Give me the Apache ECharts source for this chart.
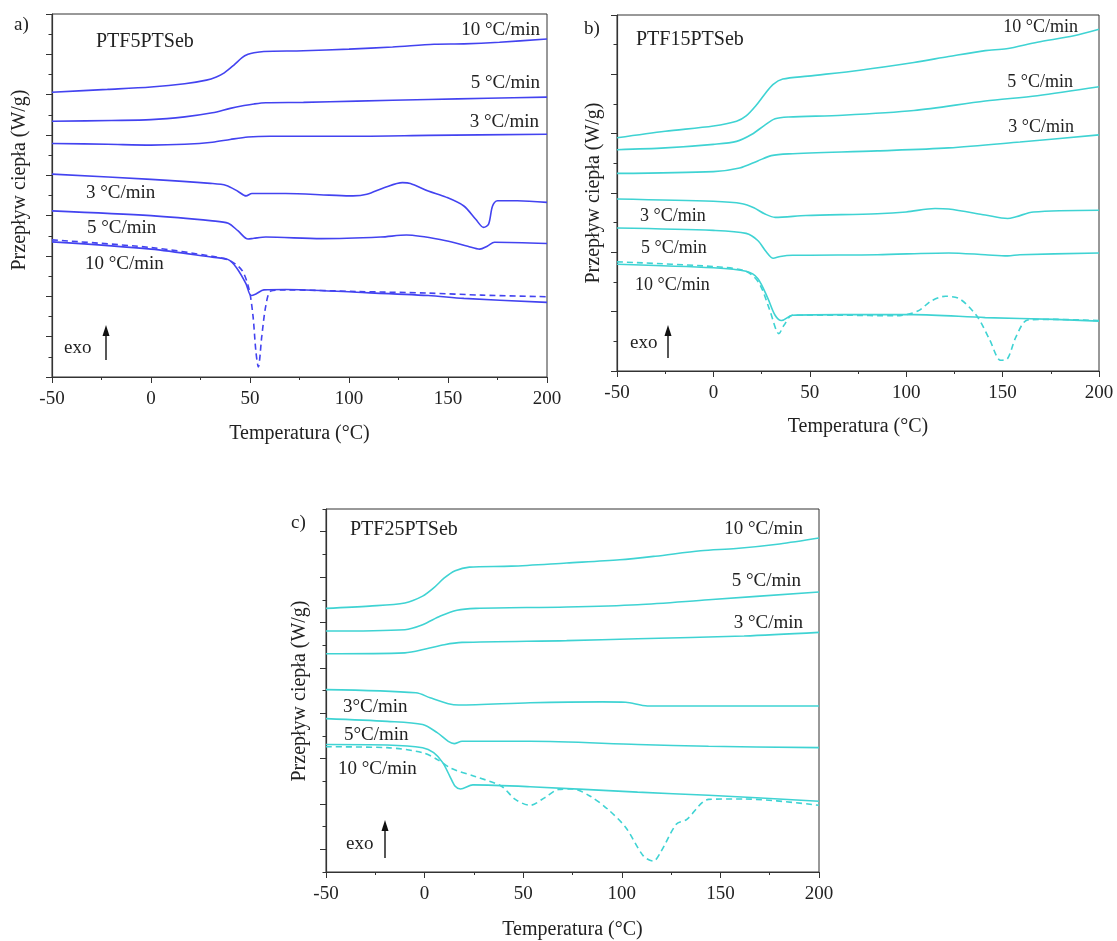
<!DOCTYPE html>
<html>
<head>
<meta charset="utf-8">
<script src="https://cdn.jsdelivr.net/npm/echarts@6/dist/echarts.min.js"></script>
<style>
  html, body { margin: 0; padding: 0; background: #fff; }
  #chart { width: 1117px; height: 941px; }
</style>
</head>
<body>
<div id="chart"></div>
<script>
// DSC traces: [temperature °C, heat flow (shifted, arbitrary units)]
// Panel a — PTF5PTSeb
const aHeat10 = [[-50,7.06],[-22,7.13],[0,7.19],[17,7.27],[28,7.36],[33,7.44],[37,7.54],[42,7.74],[46,7.92],[49,8.0],[52,8.04],[57,8.07],[77,8.09],[100,8.13],[122,8.18],[143,8.25],[158,8.26],[176,8.30],[200,8.38]];
const aHeat5 = [[-50,6.34],[-20,6.36],[0,6.38],[17,6.45],[31,6.55],[40,6.66],[47,6.73],[52,6.77],[58,6.80],[77,6.81],[104,6.84],[140,6.88],[170,6.91],[200,6.94]];
const aHeat3 = [[-50,5.79],[-22,5.77],[0,5.75],[17,5.77],[31,5.82],[40,5.89],[49,5.95],[60,5.97],[104,5.97],[140,5.99],[200,6.02]];
const aCool3 = [[-50,5.03],[0,4.90],[30,4.80],[38,4.75],[44,4.60],[48,4.49],[51,4.55],[68,4.55],[90,4.51],[102,4.49],[109,4.53],[118,4.70],[127,4.82],[131,4.80],[140,4.61],[149,4.46],[158,4.24],[164,3.91],[168,3.71],[170.5,3.79],[172.5,4.24],[175,4.37],[185,4.37],[200,4.33]];
const aCool5 = [[-50,4.12],[0,4.00],[31,3.87],[39,3.81],[44,3.62],[49,3.42],[52,3.44],[58,3.47],[86,3.43],[116,3.47],[129,3.52],[149,3.38],[160,3.24],[166,3.17],[170,3.25],[173.5,3.34],[200,3.31]];
const aCool10 = [[-50,3.35],[0,3.17],[31,2.97],[39,2.91],[43,2.72],[48,2.31],[50.5,2.02],[53,2.06],[57,2.16],[68,2.17],[104,2.10],[140,2.02],[158,1.95],[200,1.85]];
const aCool10b = [[-50,3.40],[0,3.21],[31,2.99],[40,2.88],[46,2.64],[49.5,2.18],[51.5,1.52],[53,0.62],[54.2,0.25],[56,1.03],[58,1.77],[60.5,2.13],[68,2.16],[104,2.12],[140,2.08],[167,2.03],[200,1.99]];

// Panel b — PTF15PTSeb
const bHeat10 = [[-50,3.93],[-25,4.04],[0,4.13],[12,4.21],[17,4.30],[22,4.47],[26.5,4.66],[31,4.83],[36,4.92],[49,4.97],[76,5.07],[104,5.20],[122,5.30],[141,5.40],[152,5.43],[168,5.54],[187,5.65],[200,5.76]];
const bHeat5 = [[-50,3.73],[-25,3.76],[0,3.82],[12,3.87],[20,3.99],[26.5,4.14],[32,4.25],[39,4.28],[67,4.31],[104,4.39],[141,4.55],[168,4.64],[200,4.79]];
const bHeat3 = [[-50,3.33],[0,3.36],[13.6,3.42],[23,3.54],[30,3.63],[39,3.66],[85,3.71],[122,3.76],[159,3.86],[200,3.98]];
const bCool3 = [[-50,2.90],[0,2.86],[15,2.82],[21,2.75],[26.5,2.65],[32,2.59],[48,2.62],[85,2.65],[100,2.68],[115,2.74],[122,2.73],[141,2.63],[152.6,2.57],[157,2.60],[166,2.68],[200,2.71]];
const bCool5 = [[-50,2.41],[0,2.37],[17,2.32],[23,2.20],[27.4,2.01],[31,1.90],[34.7,1.93],[41,1.95],[85,1.96],[122,1.99],[141,1.96],[152.6,1.94],[159,1.96],[200,1.99]];
const bCool10 = [[-50,1.80],[0,1.74],[17,1.68],[23,1.56],[28.3,1.22],[32,0.94],[35.3,0.85],[41,0.94],[67,0.95],[104,0.95],[141,0.90],[177,0.87],[200,0.84]];
const bCool10b = [[-50,1.84],[0,1.76],[17,1.68],[23.7,1.48],[29.2,1.03],[34,0.63],[36.6,0.77],[41,0.94],[67,0.94],[95,0.93],[106,1.01],[113,1.18],[120.4,1.26],[128,1.21],[137,0.91],[143.4,0.52],[149,0.18],[152.6,0.21],[157,0.58],[163,0.86],[177,0.87],[200,0.85]];

// Panel c — PTF25PTSeb
const cHeat10 = [[-50,5.81],[-28,5.86],[-10,5.93],[-1,6.08],[4.6,6.26],[10,6.48],[15.5,6.64],[22.7,6.72],[44,6.74],[72,6.81],[99,6.88],[117,6.96],[140,7.08],[158,7.13],[180,7.23],[200,7.36]];
const cHeat5 = [[-50,5.31],[-10,5.34],[-1,5.45],[8,5.64],[16.4,5.77],[26,5.81],[72,5.84],[108,5.89],[144,6.00],[200,6.17]];
const cHeat3 = [[-50,4.81],[-10,4.83],[1,4.92],[10,5.01],[19,5.06],[72,5.10],[108,5.14],[162,5.20],[200,5.28]];
const cCool3 = [[-50,4.02],[-4.4,3.95],[2.8,3.84],[12,3.71],[17.3,3.68],[53.5,3.73],[90,3.75],[102,3.74],[113,3.66],[144,3.66],[200,3.66]];
const cCool5 = [[-50,3.38],[-19,3.32],[-1,3.25],[6.4,3.07],[12,2.88],[15,2.83],[19,2.88],[53.5,2.88],[108,2.81],[144,2.77],[200,2.74]];
const cCool10 = [[-50,2.81],[-19,2.80],[-1,2.74],[4.6,2.63],[9.2,2.41],[12.8,2.11],[15.5,1.89],[18.2,1.83],[24.5,1.92],[53.5,1.88],[108,1.76],[144,1.69],[200,1.56]];
const cCool10b = [[-50,2.76],[-19,2.74],[-1,2.63],[6.4,2.48],[13.7,2.28],[26,2.10],[39,1.89],[46,1.60],[53.5,1.47],[61,1.64],[68,1.82],[75,1.83],[84,1.67],[93,1.38],[102,0.98],[111,0.35],[116,0.24],[120,0.46],[127.6,1.05],[133,1.16],[144,1.60],[162,1.61],[200,1.47]];

// Axis settings
const xTicks = { min: -50, max: 200, interval: 50 };
const yRangeA = { min: 0, max: 9 };
const yRangeB = { min: 0, max: 6 };
const yRangeC = { min: 0, max: 8 };
const yMajorC = [0.5, 1.5, 2.5, 3.5, 4.5, 5.5, 6.5, 7.5];

const BLUE = '#4343f0';
const CYAN = '#3fd3d3';
const INK = '#222';
const FONT = '"Liberation Serif", "Times New Roman", serif';

const grids = [
  { left: 52, top: 14, width: 495, height: 363 },
  { left: 617, top: 15, width: 482, height: 356 },
  { left: 326, top: 509, width: 493, height: 364 }
].map(g => Object.assign({ show: true, borderColor: '#333', borderWidth: 1, backgroundColor: 'transparent' }, g));

function xAxis(gridIndex, nameGap) {
  return {
    type: 'value', gridIndex, min: xTicks.min, max: xTicks.max, interval: xTicks.interval,
    name: 'Temperatura (°C)', nameLocation: 'middle', nameGap,
    nameTextStyle: { fontFamily: FONT, fontSize: 20, color: INK },
    axisLine: { onZero: false, lineStyle: { color: '#333', width: 1.2 } },
    axisTick: { length: 6, lineStyle: { color: '#333' } },
    minorTick: { show: true, splitNumber: 2, length: 3, lineStyle: { color: '#333' } },
    splitLine: { show: false },
    axisLabel: { fontFamily: FONT, fontSize: 19, color: INK, margin: 13 }
  };
}

function yAxisStd(gridIndex, range) {
  return {
    type: 'value', gridIndex, min: range.min, max: range.max, interval: 1,
    axisLine: { show: true, onZero: false, lineStyle: { color: '#333', width: 1.2 } },
    axisTick: { show: true, length: 6, lineStyle: { color: '#333' } },
    minorTick: { show: true, splitNumber: 2, length: 3.5, lineStyle: { color: '#333' } },
    splitLine: { show: false },
    axisLabel: { show: false }
  };
}

const yAxes = [
  yAxisStd(0, yRangeA),
  yAxisStd(1, yRangeB),
  // panel c: short ticks at integers, long ticks half-way between
  {
    type: 'value', gridIndex: 2, min: yRangeC.min, max: yRangeC.max, interval: 1,
    axisLine: { show: true, onZero: false, lineStyle: { color: '#333', width: 1.2 } },
    axisTick: { show: true, length: 3.5, lineStyle: { color: '#333' } },
    splitLine: { show: false }, axisLabel: { show: false }
  },
  {
    type: 'value', gridIndex: 2, min: yRangeC.min, max: yRangeC.max, position: 'left', offset: 0,
    axisLine: { show: false, onZero: false },
    axisTick: { show: true, length: 6, customValues: yMajorC, lineStyle: { color: '#333' } },
    splitLine: { show: false }, axisLabel: { show: false }
  }
];

function curve(data, color, xi, yi, dashed) {
  return {
    type: 'line', data, xAxisIndex: xi, yAxisIndex: yi,
    showSymbol: false, smooth: 0.3, silent: true,
    lineStyle: { color, width: 1.6, type: dashed ? [6, 4] : 'solid' }
  };
}

const series = [
  curve(aHeat10, BLUE, 0, 0), curve(aHeat5, BLUE, 0, 0), curve(aHeat3, BLUE, 0, 0),
  curve(aCool3, BLUE, 0, 0), curve(aCool5, BLUE, 0, 0), curve(aCool10, BLUE, 0, 0),
  curve(aCool10b, BLUE, 0, 0, true),
  curve(bHeat10, CYAN, 1, 1), curve(bHeat5, CYAN, 1, 1), curve(bHeat3, CYAN, 1, 1),
  curve(bCool3, CYAN, 1, 1), curve(bCool5, CYAN, 1, 1), curve(bCool10, CYAN, 1, 1),
  curve(bCool10b, CYAN, 1, 1, true),
  curve(cHeat10, CYAN, 2, 2), curve(cHeat5, CYAN, 2, 2), curve(cHeat3, CYAN, 2, 2),
  curve(cCool3, CYAN, 2, 2), curve(cCool5, CYAN, 2, 2), curve(cCool10, CYAN, 2, 2),
  curve(cCool10b, CYAN, 2, 2, true)
];

// Text annotations
function txt(text, x, y, size, align) {
  return { type: 'text', x, y, silent: true,
    style: { text, font: size + 'px ' + FONT, fill: INK, align: align || 'left', verticalAlign: 'middle' } };
}
function yTitle(x, y) {
  return { type: 'text', x, y, rotation: Math.PI / 2, silent: true,
    style: { text: 'Przepływ ciepła (W/g)', font: '20px ' + FONT, fill: INK, align: 'center', verticalAlign: 'middle' } };
}
function exoArrow(x, yBottom, yTop) {
  return [
    { type: 'line', silent: true, shape: { x1: x, y1: yBottom, x2: x, y2: yTop + 8 }, style: { stroke: '#111', lineWidth: 1.4 } },
    { type: 'polygon', silent: true, shape: { points: [[x, yTop], [x - 3.5, yTop + 11], [x + 3.5, yTop + 11]] }, style: { fill: '#111' } }
  ];
}

const graphic = [
  // panel a
  txt('a)', 14, 25, 19), txt('PTF5PTSeb', 96, 42, 20),
  txt('10 °C/min', 540, 30, 19, 'right'), txt('5 °C/min', 540, 83, 19, 'right'), txt('3 °C/min', 539, 122, 19, 'right'),
  txt('3 °C/min', 86, 193, 19), txt('5 °C/min', 87, 228, 19), txt('10 °C/min', 85, 264, 19),
  txt('exo', 64, 348, 19), ...exoArrow(106, 360, 325), yTitle(20, 180),
  // panel b
  txt('b)', 584, 29, 19), txt('PTF15PTSeb', 636, 40, 20),
  txt('10 °C/min', 1078, 27, 18, 'right'), txt('5 °C/min', 1073, 82, 18, 'right'), txt('3 °C/min', 1074, 127, 18, 'right'),
  txt('3 °C/min', 640, 216, 18), txt('5 °C/min', 641, 248, 18), txt('10 °C/min', 635, 285, 18),
  txt('exo', 630, 343, 19), ...exoArrow(668, 358, 325), yTitle(594, 193),
  // panel c
  txt('c)', 291, 523, 19), txt('PTF25PTSeb', 350, 530, 20),
  txt('10 °C/min', 803, 529, 19, 'right'), txt('5 °C/min', 801, 581, 19, 'right'), txt('3 °C/min', 803, 623, 19, 'right'),
  txt('3°C/min', 343, 707, 19), txt('5°C/min', 344, 735, 19), txt('10 °C/min', 338, 769, 19),
  txt('exo', 346, 844, 19), ...exoArrow(385, 858, 820), yTitle(300, 691)
];

const chart = echarts.init(document.getElementById('chart'), null, { renderer: 'canvas' });
chart.setOption({
  backgroundColor: '#fff',
  animation: false,
  grid: grids,
  xAxis: [xAxis(0, 47), xAxis(1, 46), xAxis(2, 48)],
  yAxis: yAxes,
  series,
  graphic
});
</script>
</body>
</html>
